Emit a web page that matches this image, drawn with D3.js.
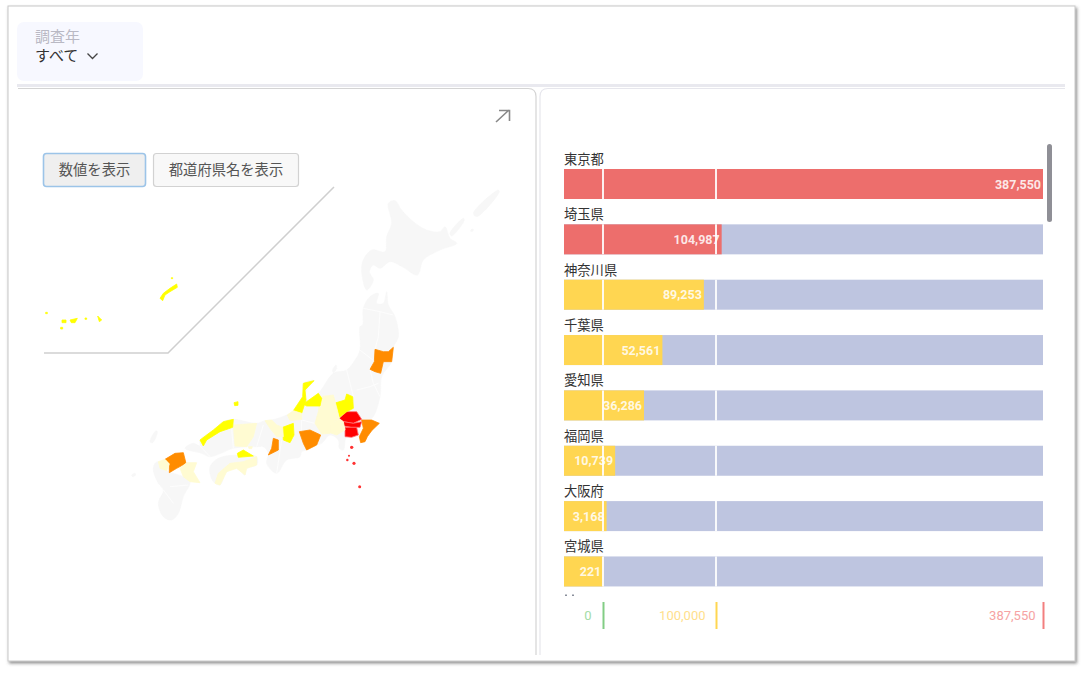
<!DOCTYPE html>
<html lang="ja">
<head>
<meta charset="utf-8">
<script src="https://cdn.jsdelivr.net/npm/d3@7"></script>
<style>
html, body { margin: 0; padding: 0; background: #fff; }
svg { display: block; }
text { font-family: "Noto Sans CJK JP", "Noto Sans", sans-serif; }
.num { font-family: Roboto, sans-serif; }
</style>
</head>
<body>
<div id="chart"></div>
<script>
// Bar data
const prefNames = ["東京都", "埼玉県", "神奈川県", "千葉県", "愛知県", "福岡県", "大阪府", "宮城県"];
const prefValues = [387550, 104987, 89253, 52561, 36286, 10739, 3168, 221];
const axisTicks = [0, 100000, 387550];
const axisColors = ["#82cd85", "#ffd651", "#f27f7f"];
const axisLabelColors = ["#a4dca6", "#ffe08c", "#f6a3a3"];

// Map outlines, in map units
const landOutlines = [
  // Hokkaido
  [[775,-410],[795,-418],[815,-390],[850,-355],[890,-330],[930,-325],[945,-340],[960,-305],[980,-290],[930,-270],[880,-240],[862,-195],[820,-218],[780,-235],[750,-215],[730,-225],[718,-205],[730,-180],[710,-150],[695,-205],[700,-240],[725,-270],[765,-265],[770,-310],[785,-350]],
  // Kuril islands
  [[960,-320],[1000,-365],[1003,-360],[965,-312]],
  [[1030,-380],[1105,-450],[1108,-445],[1040,-370]],
  [[1024,-332],[1030,-332],[1028,-326],[1022,-326]],
  // Honshu
  [[720,-130],[745,-140],[740,-110],[760,-110],[770,-145],[775,-105],[795,-70],[805,-10],[790,22],[785,65],[755,110],[750,170],[725,235],[695,240],[685,285],[650,290],[640,330],[628,325],[625,300],[600,285],[575,310],[560,315],[530,330],[515,335],[510,350],[470,360],[440,400],[410,370],[415,340],[400,320],[380,320],[350,320],[310,325],[240,350],[215,340],[165,325],[190,310],[210,318],[210,300],[250,270],[280,245],[310,238],[380,250],[405,242],[425,240],[470,225],[490,212],[518,170],[520,130],[552,122],[530,150],[530,180],[565,160],[610,100],[650,90],[675,60],[690,30],[690,-40],[698,-45],[700,-95]],
  // Shikoku
  [[240,380],[265,355],[320,345],[380,350],[380,375],[350,385],[345,405],[320,385],[290,395],[270,435],[250,425],[240,400]],
  // Kyushu
  [[75,370],[85,365],[110,392],[160,410],[180,425],[160,470],[145,520],[125,540],[100,530],[85,490],[100,450],[85,430],[70,390]],
  // small islands
  [[60,305],[78,272],[82,275],[68,308]],
  [[5,405],[15,400],[17,405],[8,410]],
  [[608,90],[618,75],[620,85],[610,98]]
];
const borderLines = [
  [[700,-95],[750,-85],[790,-75]],
  [[750,-85],[745,-10],[735,28]],
  [[690,30],[735,65]],
  [[720,88],[730,130],[750,170]],
  [[680,150],[720,140],[745,130]],
  [[515,240],[555,250]],
  [[515,275],[515,240]],
  [[650,90],[670,170]],
  [[310,325],[305,265]],
  [[210,318],[240,350]],
  [[380,320],[400,255]],
  [[440,400],[455,300]],
  [[120,440],[175,435]],
  [[100,450],[130,490]]
];
const choroNames = ["Miyagi", "Chiba", "Saitama", "Tokyo", "Kanagawa", "Gunma", "Nagano", "Yamanashi", "Toyama", "Ishikawa", "Fukui", "Aichi", "Shiga", "Kyoto", "Osaka", "Okayama", "Shimane", "Oki", "Kagawa", "Shodoshima", "Tokushima", "Fukuoka", "Saga", "Oita", "Okinawa1", "Okinawa2", "Okinawa3", "Okinawa4", "Okinawa5", "Okinawa6", "Okinawa7", "Okinawa8"];
const choroLevels = [2, 2, 3, 3, 3, 1, 0, 0, 1, 1, 0, 2, 1, 0, 2, 0, 1, 1, 1, 0, 0, 2, 0, 0, 1, 1, 1, 1, 1, 1, 1, 1];
const choroOutlines = [
  [[735,28],[760,35],[775,35],[790,22],[785,65],[760,65],[752,100],[735,95],[720,88],[733,65]],
  [[695,240],[725,240],[748,250],[725,272],[712,290],[705,305],[692,308],[688,290],[700,265]],
  [[628,235],[650,215],[680,215],[695,238],[670,250],[640,245]],
  [[640,245],[670,250],[695,245],[690,262],[665,262],[640,258]],
  [[645,262],[680,262],[685,285],[665,292],[645,290]],
  [[612,190],[645,180],[650,162],[668,170],[670,205],[650,215],[628,232],[620,205]],
  [[570,170],[610,165],[622,210],[628,235],[600,255],[600,280],[575,282],[555,250],[565,215]],
  [[600,255],[628,237],[640,245],[645,270],[620,285],[600,278]],
  [[520,192],[565,160],[575,175],[570,198],[530,198]],
  [[490,212],[518,170],[520,130],[552,122],[525,150],[528,180],[515,220]],
  [[472,225],[490,212],[515,220],[515,238],[480,242]],
  [[508,275],[540,270],[572,285],[560,315],[530,330],[520,310]],
  [[458,262],[490,250],[492,285],[480,308],[460,300]],
  [[405,242],[425,240],[440,255],[458,262],[460,290],[440,290],[420,265]],
  [[430,295],[445,300],[445,330],[415,345],[425,325]],
  [[310,255],[380,250],[370,290],[350,320],[315,318]],
  [[210,300],[250,270],[280,245],[310,238],[308,262],[270,275],[230,300],[220,318]],
  [[312,188],[324,185],[324,196],[314,197]],
  [[322,340],[340,330],[370,348],[325,352]],
  [[355,320],[367,320],[365,326],[357,326]],
  [[255,430],[265,400],[300,370],[340,365],[380,350],[380,375],[350,385],[345,405],[320,385],[290,395],[270,435]],
  [[105,358],[135,340],[160,338],[168,370],[140,385],[118,398],[118,370]],
  [[85,365],[105,358],[118,372],[110,392],[90,385]],
  [[150,385],[170,368],[200,368],[190,395],[210,428],[180,425],[160,410]],
  [[90,-125],[100,-140],[120,-155],[140,-168],[142,-158],[120,-145],[105,-135],[98,-118]],
  [[-204,-60],[-192,-60],[-192,-52],[-204,-52]],
  [[-180,-60],[-158,-65],[-165,-52],[-176,-52]],
  [[-135,-66],[-130,-66],[-130,-62],[-135,-62]],
  [[-97,-72],[-85,-60],[-92,-55]],
  [[-253,-83],[-248,-83],[-248,-79],[-253,-79]],
  [[-208,-38],[-202,-38],[-202,-33],[-208,-33]],
  [[124,-187],[128,-187],[128,-184],[124,-184]]
];
const levelColors = ["#fffbd2", "#ffff00", "#ff8c00", "#ff0000"];
const islandNames = ["Oshima", "Niijima", "Miyake", "Hachijo", "Aogashima"];
const islandPoints = [[665,322],[657,347],[652,360],[672,370],[689,440]];
const islandSizes = [3.5, 1.6, 2.2, 3.2, 3];
const insetFrame = [[-258,39],[114,39],[612,-459]];

const W = 1083, H = 673;
const svg = d3.select("#chart").append("svg").attr("width", W).attr("height", H);
const defs = svg.append("defs");
const shadow = defs.append("filter").attr("id", "shadow").attr("x", "-2%").attr("y", "-2%").attr("width", "104%").attr("height", "104%");
shadow.append("feDropShadow").attr("dx", 1.5).attr("dy", 2).attr("stdDeviation", 1.5).attr("flood-color", "#555").attr("flood-opacity", 0.65);
const soft = defs.append("filter").attr("id", "soft");
soft.append("feGaussianBlur").attr("stdDeviation", 0.45);

// Page frame
svg.append("rect").attr("x", 8).attr("y", 6).attr("width", 1067).attr("height", 655)
  .attr("fill", "#fff").attr("stroke", "#c8c8c8").attr("filter", "url(#shadow)");

// Filter box
svg.append("rect").attr("x", 17).attr("y", 22).attr("width", 126).attr("height", 59).attr("rx", 7).attr("fill", "#f7f8ff");
svg.append("text").attr("x", 35).attr("y", 42).attr("font-size", 15).attr("fill", "#b9b9c4").text("調査年");
svg.append("text").attr("x", 35).attr("y", 61).attr("font-size", 15).attr("fill", "#333").text("すべて");
svg.append("path").attr("d", "M87.5,53.5 L92.5,58.5 L97.5,53.5").attr("fill", "none").attr("stroke", "#444").attr("stroke-width", 1.3);

// Panels
svg.append("rect").attr("x", 17).attr("y", 84).attr("width", 1048).attr("height", 3).attr("fill", "#e9e9ef");
svg.append("path").attr("d", "M18,88.5 H528 Q536,88.5 536,96.5 V655").attr("fill", "none").attr("stroke", "#d4d4d4").attr("stroke-width", 1.2);
svg.append("path").attr("d", "M540,655 V96.5 Q540,88.5 548,88.5 H1065").attr("fill", "none").attr("stroke", "#e6e6ec").attr("stroke-width", 1.2);
svg.append("path").attr("d", "M496,122 L509,110 M499,110.5 H509.5 V121").attr("fill", "none").attr("stroke", "#888").attr("stroke-width", 1.6);

// Buttons
svg.append("rect").attr("x", 43.5).attr("y", 153.5).attr("width", 102).attr("height", 33).attr("rx", 3)
  .attr("fill", "#efefef").attr("stroke", "#9cc4e8").attr("stroke-width", 1.6);
svg.append("text").attr("x", 94.5).attr("y", 175).attr("text-anchor", "middle").attr("font-size", 14.3).attr("fill", "#555").text("数値を表示");
svg.append("rect").attr("x", 153.5).attr("y", 153.5).attr("width", 145).attr("height", 33).attr("rx", 3)
  .attr("fill", "#f8f8f8").attr("stroke", "#d2d2d2").attr("stroke-width", 1.2);
svg.append("text").attr("x", 226).attr("y", 175).attr("text-anchor", "middle").attr("font-size", 14.3).attr("fill", "#555").text("都道府県名を表示");

// Map
const mapX = d3.scaleLinear().domain([0, 840]).range([130, 410]);
const mapY = d3.scaleLinear().domain([0, 570]).range([340, 530]);
const outline = d3.line().x(d => mapX(d[0])).y(d => mapY(d[1])).curve(d3.curveCatmullRomClosed.alpha(0.5));
const prefOutline = d3.line().x(d => mapX(d[0])).y(d => mapY(d[1])).curve(d3.curveLinearClosed);
const openLine = d3.line().x(d => mapX(d[0])).y(d => mapY(d[1]));
const map = svg.append("g").attr("filter", "url(#soft)");

map.selectAll(".land").data(landOutlines).join("path")
  .attr("class", "land").attr("d", outline).attr("fill", "#f7f7f7").attr("stroke", "#f7f7f7").attr("stroke-width", 0.6);
map.selectAll(".border").data(borderLines).join("path")
  .attr("class", "border").attr("d", openLine).attr("fill", "none").attr("stroke", "#fff").attr("stroke-width", 0.7);
map.selectAll(".pref").data(choroNames).join("path")
  .attr("class", "pref").attr("d", (d, i) => prefOutline(choroOutlines[i]))
  .attr("fill", (d, i) => levelColors[choroLevels[i]])
  .attr("stroke", (d, i) => choroLevels[i] === 3 ? "#ff7070" : levelColors[choroLevels[i]]).attr("stroke-width", 0.8);
map.selectAll(".island").data(islandNames).join("circle")
  .attr("class", "island").attr("cx", (d, i) => mapX(islandPoints[i][0])).attr("cy", (d, i) => mapY(islandPoints[i][1]))
  .attr("r", (d, i) => islandSizes[i] / 3 + 0.5).attr("fill", "#ff3030");
svg.append("path").attr("d", openLine(insetFrame)).attr("fill", "none").attr("stroke", "#cfcfcf").attr("stroke-width", 1.5);

// Bars
const x = d3.scaleLinear().domain([-34500, 0, 100000, 387550]).range([564, 603, 716, 1043]);
const barH = 30;
const rowH = 55.35;
const rowY = (d, i) => 169 + rowH * i;
const barColor = v => v >= 100000 ? "#ed6e6c" : "#ffd651";

const rows = svg.append("g").selectAll(".row").data(prefNames).join("g").attr("class", "row");
rows.append("text").attr("x", 564).attr("y", (d, i) => rowY(d, i) - 5).attr("font-size", 13.3).attr("fill", "#333").text(d => d);
rows.append("rect").attr("x", x(-34500)).attr("y", rowY).attr("width", x(387550) - x(-34500)).attr("height", barH).attr("fill", "#bec5e0");
rows.append("rect").attr("x", x(-34500)).attr("y", rowY).attr("width", (d, i) => x(prefValues[i]) - x(-34500)).attr("height", barH)
  .attr("fill", (d, i) => barColor(prefValues[i]));
rows.selectAll(".guide").data(axisTicks.slice(0, 2)).join("line").attr("class", "guide")
  .attr("x1", d => x(d)).attr("x2", d => x(d));
rows.each(function(d, i) {
  d3.select(this).selectAll(".guide").attr("y1", rowY(d, i)).attr("y2", rowY(d, i) + barH).attr("stroke", "#fff").attr("stroke-width", 2).attr("opacity", 0.9);
});
rows.append("text").attr("class", "num").attr("x", (d, i) => x(prefValues[i]) - 2).attr("y", (d, i) => rowY(d, i) + 19.5)
  .attr("text-anchor", "end").attr("font-size", 12.5).attr("font-weight", 700).attr("fill", "#fff").attr("fill-opacity", 0.85)
  .text((d, i) => d3.format(",")(prefValues[i]));

// Top edge of the next label, cut off by the scroll area and not readable
svg.append("g").selectAll("rect").data([565, 572]).join("rect")
  .attr("x", d => d).attr("y", 594.5).attr("width", 2).attr("height", 1.5).attr("fill", "#8a8f9c");

// Scrollbar
svg.append("rect").attr("x", 1047).attr("y", 144).attr("width", 5).attr("height", 78).attr("rx", 2.5).attr("fill", "#8f8f96");

// Axis
const axisGap = [12, 11, 8];
const axis = svg.append("g").attr("transform", "translate(0,602)")
  .call(d3.axisBottom(x).tickValues(axisTicks).tickSize(27).tickFormat(d3.format(",")));
axis.select(".domain").remove();
axis.selectAll(".tick line").attr("stroke", (d, i) => axisColors[i]).attr("stroke-width", 2);
axis.selectAll(".tick text").attr("class", "num").attr("x", (d, i) => -axisGap[i]).attr("y", 13).attr("dy", "0.35em")
  .attr("text-anchor", "end").attr("font-size", 13).attr("font-family", "Roboto, sans-serif").attr("fill", (d, i) => axisLabelColors[i]);
</script>
</body>
</html>
